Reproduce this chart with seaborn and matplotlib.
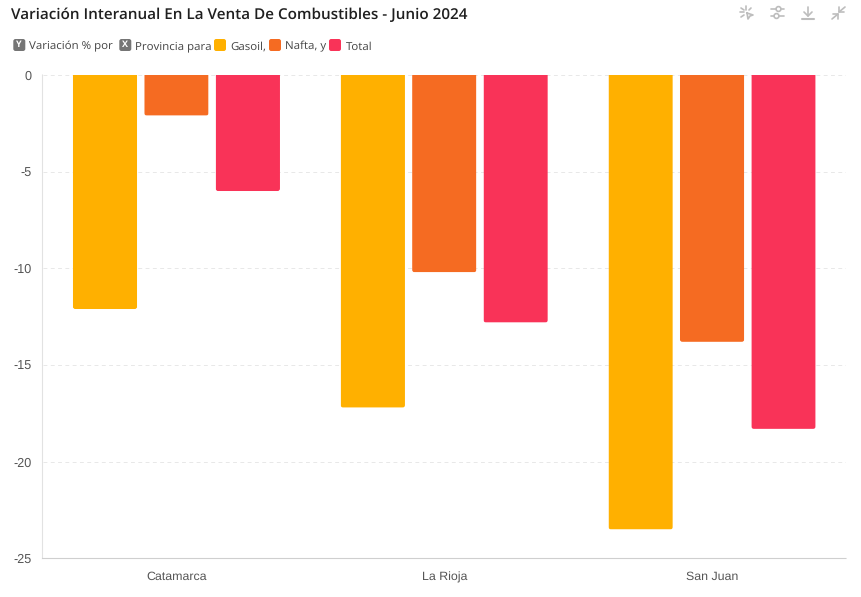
import matplotlib
matplotlib.use("Agg")
import matplotlib.pyplot as plt
import seaborn as sns
import pandas as pd
from matplotlib.patches import FancyBboxPatch, Circle
from matplotlib.lines import Line2D
from matplotlib.transforms import IdentityTransform

provincias = ["Catamarca", "La Rioja", "San Juan"]
gasoil = [-12.1, -17.2, -23.5]
nafta = [-2.1, -10.2, -13.8]
total = [-6.0, -12.8, -18.3]
series = ["Gasoil", "Nafta", "Total"]
colores = ["#FFB000", "#F56B22", "#F93358"]
y_ticks = [0, -5, -10, -15, -20, -25]
titulo = "Variación Interanual En La Venta De Combustibles - Junio 2024"

df = pd.DataFrame({"Provincia": provincias, "Gasoil": gasoil, "Nafta": nafta, "Total": total})
df = df.melt("Provincia", var_name="Serie", value_name="Variacion")

W, H = 861, 597
sns.set_theme(style="white")
plt.rcParams["font.family"] = ["Liberation Sans", "DejaVu Sans"]
plt.rcParams["text.hinting"] = "no_hinting"
fig = plt.figure(figsize=(W / 100, H / 100), dpi=100, facecolor="white")
ax = fig.add_axes([42.5 / W, 1 - 558.5 / H, 803.5 / W, 483.5 / H])

sns.barplot(data=df, x="Provincia", y="Variacion", hue="Serie", order=provincias,
            hue_order=series, palette=colores, saturation=1, width=0.8, gap=0.1,
            legend=False, ax=ax)

ax.set_ylim(-25, 0)
ax.set_xlim(-0.5, 2.5)
ax.set_xlabel("")
ax.set_ylabel("")
ax.set_yticks(y_ticks)
ax.set_yticklabels([str(t) for t in y_ticks])
ax.yaxis.grid(True, color="#E8E8E8", linestyle=(0, (4, 3.5)), linewidth=0.7)
ax.xaxis.grid(False)
ax.set_axisbelow(True)
for s in ["top", "right"]:
    ax.spines[s].set_visible(False)
ax.spines["left"].set_color("#E2E2E2")
ax.spines["left"].set_linewidth(0.8)
ax.spines["bottom"].set_color("#CFCFCF")
ax.spines["bottom"].set_linewidth(0.8)
for s in ["left", "bottom"]:
    ax.spines[s].set_snap(False)
ax.tick_params(axis="y", length=0, pad=8, labelsize=9.1, labelcolor="#555555")
ax.tick_params(axis="x", length=0, pad=15.5, labelsize=8.9, labelcolor="#555555")
for lab in ax.get_xticklabels():
    lab.set_verticalalignment("baseline")

# esquinas inferiores redondeadas de cada barra (recorte en píxeles)
for bar in ax.patches:
    bar.set_snap(False)
    bar.set_linewidth(0)
    (x0, y0), (x1, y1) = ax.transData.transform(bar.get_bbox().get_points())
    lo, hi = min(y0, y1), max(y0, y1)
    clip = FancyBboxPatch((x0, lo), x1 - x0, hi - lo + 6,
                          boxstyle="round,pad=0,rounding_size=2.5",
                          transform=IdentityTransform(), facecolor="none", edgecolor="none")
    bar.set_clip_path(clip)


def px(x, y):
    return x / W, 1 - y / H


a, b = px(11, 19)
fig.text(a, b, titulo, family="Open Sans", weight="semibold", fontsize=10.95,
         color="#1F1F1F", va="baseline", ha="left")


def chip(x0, color, letra=None):
    p = FancyBboxPatch((x0, H - 51), 12, 12, boxstyle="round,pad=0,rounding_size=2.2",
                       transform=IdentityTransform(), facecolor=color, edgecolor="none")
    fig.add_artist(p)
    if letra:
        cx, cy = px(x0 + 6, 45)
        fig.text(cx, cy, letra, color="white", fontsize=6.5, weight="bold", ha="center",
                 va="center", family="Open Sans")


leyenda = [
    (13.3, "#757575", "Y", 29, "Variación % por"),
    (119.3, "#757575", "X", 135, "Provincia para"),
    (214, colores[0], None, 230, "Gasoil,"),
    (269, colores[1], None, 285, "Nafta, y"),
    (329, colores[2], None, 346, "Total"),
]
for x0, c, l, tx, txt in leyenda:
    chip(x0, c, l)
    a, b = px(tx, 49.8)
    fig.text(a, b, txt, family="Open Sans", fontsize=8.25, color="#444444", va="baseline",
             ha="left")

# iconos de la barra de herramientas
gris = "#BDBDBD"


def seg(xs, ys, lw=1.2):
    fig.add_artist(Line2D([v / W for v in xs], [1 - v / H for v in ys], color=gris, lw=lw,
                          solid_capstyle="round"))


# selección
for a, b, c, d in [(740, 12, 744, 12), (741, 8, 744, 10), (746, 6, 746, 10), (751, 8, 749, 10), (741, 17, 744, 15)]:
    seg([a, c], [b, d])
seg([747, 753, 750, 748, 747], [13, 15, 16, 19, 13])
# ajustes
seg([771, 776], [9, 9]); seg([781, 784], [9, 9]); seg([771, 774], [16, 16]); seg([779, 784], [16, 16])
for cx, cy in [(778.5, 9), (776.5, 16)]:
    fig.add_artist(Circle((cx, H - cy), 2.4, transform=IdentityTransform(),
                          fill=False, edgecolor=gris, lw=1.2))
# descarga
seg([808, 808], [7, 16]); seg([804, 808, 812], [12, 16, 12]); seg([802, 814], [19, 19], lw=1.5)
# contraer
seg([832, 838], [19, 14]); seg([833, 838, 838], [14, 14, 19])
seg([845, 839], [7, 12]); seg([839, 839, 844], [7, 12, 12])

fig.savefig("out.png", dpi=100, facecolor="white")
